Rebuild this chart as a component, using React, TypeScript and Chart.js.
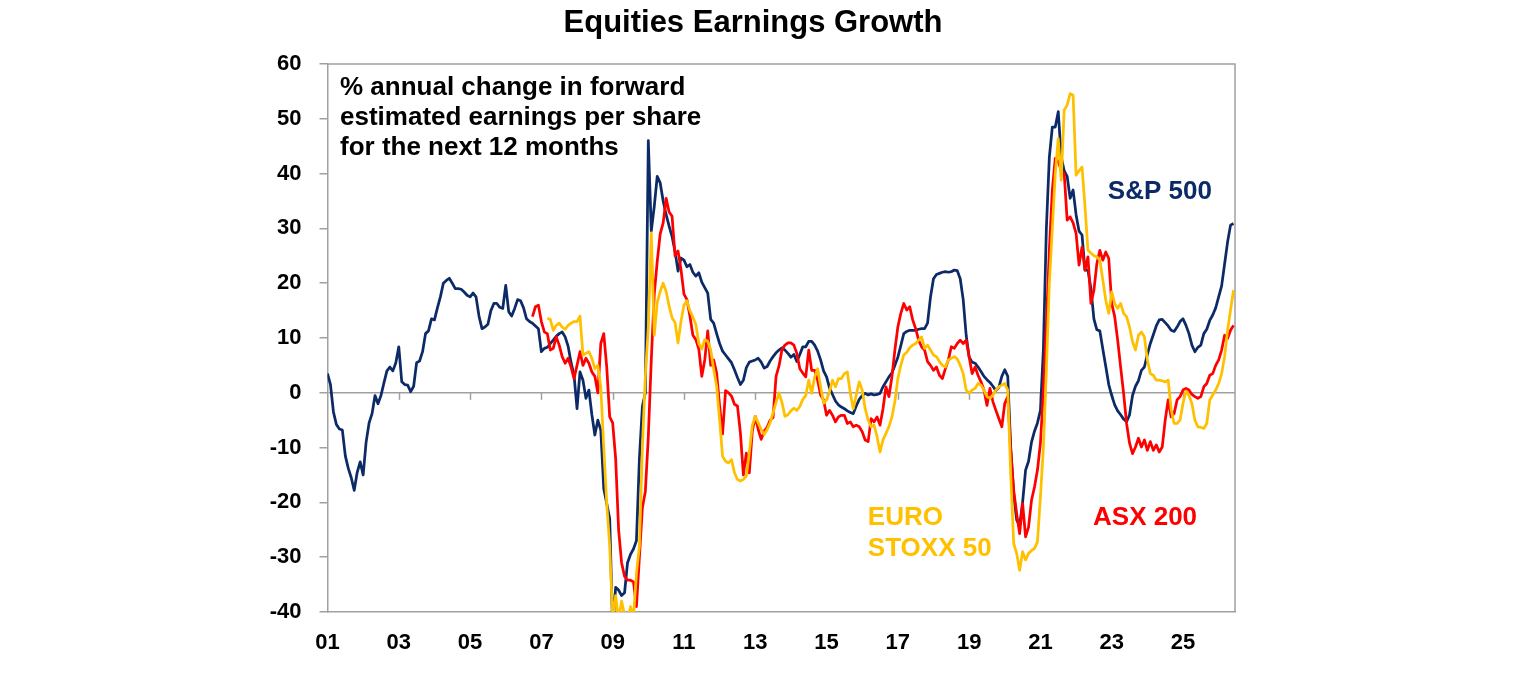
import { useEffect, useRef } from 'react';
import { Chart, registerables } from 'chart.js';

Chart.register(...registerables);

// Monthly observations, first value = first month of each series
// S&P 500 starts Jan 2001
const sp500Start = 0;
const sp500: number[] = [
  // 2001
  3.5, 1.5, -3.5, -5.8, -6.6, -6.8, -11.5, -13.8, -15.5, -17.8, -14.5, -12.6,
  // 2002
  -15, -9, -5.5, -3.8, -0.5, -2, -0.5, 1.8, 4, 4.7, 4, 5.5,
  // 2003
  8.4, 2, 1.5, 1.4, 0.2, 1.2, 5.5, 5.8, 7.5, 10.8, 11.3, 13.5,
  // 2004
  13.3, 15.5, 17.5, 20, 20.5, 20.9, 20, 19, 19, 18.9, 18.4, 17.8,
  // 2005
  17.5, 18.2, 17.5, 14, 11.7, 12, 12.5, 15, 16.3, 16.3, 15.6, 15.4,
  // 2006
  19.6, 14.8, 14, 15.4, 17, 16.8, 15.5, 13.5, 13, 12.7, 12.2, 11.7,
  // 2007
  7.5, 8.1, 8.3, 9, 9.6, 10.3, 10.8, 11.1, 10.2, 8.5, 5.5, 3.2,
  // 2008
  -2.9, 3.8, 2.3, -1, 0.5, -4, -7.7, -5, -6.8, -17.5, -20.2, -23,
  // 2009
  -43, -35.5, -36, -37, -36.5, -31, -29.5, -28.5, -27, -12, -2.5, 0,
  // 2010
  46, 29.5, 34, 39.5, 38.3, 35, 32.5, 30.4, 28.5, 25.8, 22.2, 24.6,
  // 2011
  24.2, 23, 23.4, 22, 21.3, 21.9, 20.2, 19.2, 18.2, 13.4, 12.7, 10.8,
  // 2012
  9, 7.6, 6.9, 6.2, 5.5, 4.2, 2.8, 1.5, 2.3, 4.6, 5.6, 5.8,
  // 2013
  6, 6.3, 5.6, 4.5, 4.8, 5.8, 6.6, 7.3, 7.8, 8.2, 7.8, 7.2,
  // 2014
  6.5, 7, 5.7, 7, 8.4, 8.4, 9.4, 9.4, 8.7, 7.6, 6, 4,
  // 2015
  2.9, 0.9, -0.3, -1.5, -2.2, -2.6, -2.9, -3.3, -3.6, -3.8, -2.4, -1.2,
  // 2016
  -0.5, -0.1, -0.4, -0.2, -0.4, -0.3, -0.1, 1.1, 2, 2.9, 3.6, 5,
  // 2017
  6.5, 8.6, 10.8, 11.2, 11.4, 11.4, 11.4, 11.6, 11.7, 11.7, 12.7, 17.5,
  // 2018
  20.8, 21.6, 21.8, 22, 22.1, 22, 22.1, 22.4, 22.3, 20.8, 17, 10.5,
  // 2019
  6.5, 5.6, 5.4, 4.7, 3.9, 3, 2.4, 1.9, 1.2, 0.4, 1, 3,
  // 2020
  4.2, 3, -10, -18.5, -23.2, -24.3, -20, -14.1, -12.5, -9, -7, -5.5,
  // 2021
  -3.2, 8, 30, 43, 48.5, 48.5, 51.3, 43, 40.5, 39.5, 35.5, 37,
  // 2022
  32.5, 29.5, 28.8, 22.4, 22.4, 19, 13.5, 11.5, 11.3, 8, 4.8, 1.5,
  // 2023
  -0.5, -2.2, -3.3, -4, -4.8, -5.3, -4, -0.5, 1.2, 2.2, 4.1, 4.7,
  // 2024
  7, 9, 10.6, 12.2, 13.3, 13.4, 12.8, 12.2, 11.4, 11.2, 12, 13,
  // 2025
  13.5, 12.3, 10.8, 8.7, 7.5, 8.3, 8.7, 10.8, 11.6, 13.2, 14.2, 15.5,
  // 2026
  17.5, 19.5, 23.5, 27.5, 30.6, 30.9,
];

// ASX 200 starts Oct 2006 (month 69)
const asx200Start = 69;
const asx200: number[] = [
  // 2006
  13.9, 15.7, 16,
  // 2007
  13, 11.1, 10.8, 7.8, 8.1, 10.2, 8.7, 6.6, 5.4, 6.3, 4.7, 2.6,
  // 2008
  5, 7.5, 5, 6.3, 5.4, 3.8, 3, 0, 9, 10.8, 4.7, -4.4,
  // 2009
  -5.5, -12, -25, -31, -33.5, -34.2, -34.2, -34.5, -39, -30, -21, -18,
  // 2010
  -8, 6, 18, 24, 29, 31, 35.5, 33, 32.2, 25, 25.9, 22.5,
  // 2011
  18, 17, 14, 10.5, 9.7, 8, 3, 6, 11.3, 5, 6, 3.6,
  // 2012
  -2.4, -7.5, 0.4, 0, -0.6, -2.1, -2.4, -7.3, -15, -11, -14.6, -7,
  // 2013
  -4.3, -6.7, -8.5, -7, -6.3, -5, -4.5, 3, 4.9, 7.9, 8.7, 9.1,
  // 2014
  9.1, 8.7, 7.2, 4.4, 3.6, 2.9, 7.8, 4.1, 4.1, 2.3, -0.4, -1.3,
  // 2015
  -4.1, -3.2, -4.1, -5.3, -4.4, -4.1, -4.1, -5.6, -5.3, -6.2, -5.9, -6.2,
  // 2016
  -7.1, -8.6, -8.9, -4.7, -5.3, -4.4, -5.9, -2.9, 1.1, -0.7, 2.9, 7.8,
  // 2017
  12, 14.5, 16.3, 15.1, 15.7, 13.3, 11.7, 9.6, 8.4, 7.8, 5.7, 5,
  // 2018
  4.1, 4.7, 3.2, 2.6, 4.4, 6, 8.4, 8.1, 9, 9.6, 9, 9.6,
  // 2019
  6.6, 3.5, 4.7, 3.2, 2, 0.5, -2.3, 0.8, -1.6, -3.2, -4.7, -6.2,
  // 2020
  -1.9, -0.7, -10.5, -17.8, -22, -25.7, -20.2, -26.3, -24.5, -19.6, -17.2, -14.1,
  // 2021
  -9.2, 0.5, 12.7, 26, 37, 42.8, 42.2, 40.6, 40, 31.5, 32.1, 31,
  // 2022
  29.1, 23.3, 26.6, 22.4, 24.8, 16.3, 18.7, 23.6, 26, 24.2, 25.7, 24.5,
  // 2023
  16.3, 13.9, 9.6, 4.7, -0.1, -5.6, -9.2, -11.1, -9.9, -8.3, -9.9, -8.6,
  // 2024
  -10.5, -8.9, -10.5, -9.5, -10.8, -9.9, -5, -1.3, -4.4, -3.8, -1.3, -0.7,
  // 2025
  0.5, 0.8, 0.5, -0.3, -0.7, -1, -0.7, 1.1, 1.7, 3.2, 3.5, 5,
  // 2026
  6, 7.8, 10.5, 9.9, 11.4, 12.3,
];

// EURO STOXX 50 starts Mar 2007 (month 74)
const euroStoxxStart = 74;
const euroStoxx: number[] = [
  // 2007
  13.6, 13.4, 11.4, 12.3, 12.7, 12, 11.6, 12.3, 12.7, 13,
  // 2008
  13, 14, 6.9, 7.2, 7.5, 6.3, 4.4, 5, 1, -10, -20.2, -28,
  // 2009
  -41, -37, -41.5, -38, -40.5, -42, -39, -41, -33, -28, -10, 3,
  // 2010
  12, 29.2, 10.5, 16.5, 18.5, 20, 18.5, 15.8, 13.7, 12.8, 9.1, 13,
  // 2011
  16, 16.8, 15, 13.8, 12.5, 9, 8, 9.7, 9.4, 7.8, 4.3, 1.2,
  // 2012
  -5, -11.6, -12.5, -12.8, -12.2, -14.6, -15.8, -16.1, -15.8, -15.2, -10.9, -6,
  // 2013
  -4.3, -5.5, -6.7, -7.6, -6.7, -5.5, -3.6, -1.8, 0, -1.8, -4.3, -4,
  // 2014
  -3.3, -2.8, -3.2, -2.5, -1.2, -0.5, 2.3, -0.1, 2.9, 4.4, 1.1, -1.9,
  // 2015
  -1.3, 0.2, 2.3, 1.1, 2.6, 2.6, 3.5, 3.8, -0.1, -2.9, -0.4, 2,
  // 2016
  0.5, -2.9, -5, -6.2, -5.9, -8, -10.8, -8.6, -7.4, -6.2, -4.4, -1.6,
  // 2017
  2.6, 5, 6.9, 7.4, 8.2, 8.7, 9, 9.6, 10.2, 8.1, 8.7, 7.8,
  // 2018
  6.9, 6.6, 5.7, 5, 4.7, 6, 6.3, 6.6, 6.2, 5, 3.5, 0.5,
  // 2019
  -0.1, 0.5, 0.8, 1.7, 1.4, 0.5, -0.7, -1, -0.4, 0.5, 1.1, 1.4,
  // 2020
  1.7, 0.5, -15, -27.5, -29.3, -32.4, -29, -30.5, -29.3, -28.8, -28.4, -27.2,
  // 2021
  -19, -10, 4, 20, 30, 40, 46.4, 38.8, 51.6, 52.5, 54.6, 54.3,
  // 2022
  39.7, 40.5, 41.2, 34, 26, 25.5, 25, 24.8, 24.2, 20.6, 16.9, 14.5,
  // 2023
  18.4, 16.3, 15.4, 16.3, 14.5, 13.9, 12, 9.3, 7.8, 10.5, 11.1, 10.2,
  // 2024
  6, 3.5, 3.2, 2.3, 2.3, 2.2, 2, 2.3, -3, -5.6, -5.6, -5,
  // 2025
  -1.9, 0.3, -0.5, -2, -5, -6.2, -6.3, -6.5, -5.6, -1.3, -0.4, 0.5,
  // 2026
  1.7, 3.5, 6.6, 11.4, 15.1, 18.7,
];

// x axis: months since Jan 2001; labels every second January
const xTickMonths = [0, 24, 48, 72, 96, 120, 144, 168, 192, 216, 240, 264, 288];
const xTickLabels = ['01', '03', '05', '07', '09', '11', '13', '15', '17', '19', '21', '23', '25'];
const xMaxMonth = 305.5;
const yMin = -40;
const yMax = 60;
const yStep = 10;

const titleText = 'Equities Earnings Growth';
const noteLines = [
  '% annual change in forward',
  'estimated earnings per share',
  'for the next 12 months',
];

const NAVY = '#0B2A66';
const RED = '#FF0000';
const GOLD = '#FFC000';
const GRAY = '#A0A0A0';
const FONT = '"Liberation Sans", Arial, Helvetica, sans-serif';

const toPoints = (arr: number[], start: number) => arr.map((v, i) => ({ x: start + i, y: v }));

const decorPlugin = {
  id: 'decor',
  beforeDatasetsDraw(chart: any) {
    const { ctx, chartArea: ca, scales } = chart;
    const xs = scales.x;
    const ys = scales.y;
    ctx.save();
    ctx.strokeStyle = GRAY;
    ctx.lineWidth = 1.5;
    // top and right frame lines
    ctx.beginPath();
    ctx.moveTo(ca.left, ca.top);
    ctx.lineTo(ca.right, ca.top);
    ctx.lineTo(ca.right, ca.bottom);
    ctx.stroke();
    // tick marks hanging from the zero line
    const y0 = ys.getPixelForValue(0);
    xTickMonths.forEach((m) => {
      if (m === 0) return;
      const px = Math.round(xs.getPixelForValue(m)) + 0.5;
      ctx.beginPath();
      ctx.moveTo(px, y0);
      ctx.lineTo(px, y0 + 7);
      ctx.stroke();
    });
    ctx.restore();
  },
  afterDraw(chart: any) {
    const { ctx, chartArea: ca, scales } = chart;
    const xs = scales.x;
    const ys = scales.y;
    ctx.save();
    // title
    ctx.fillStyle = '#000';
    ctx.textAlign = 'center';
    ctx.textBaseline = 'alphabetic';
    ctx.font = `bold 31px ${FONT}`;
    ctx.fillText(titleText, 753, 32);
    // note
    ctx.textAlign = 'left';
    ctx.font = `bold 26px ${FONT}`;
    noteLines.forEach((l, i) => ctx.fillText(l, ca.left + 12.5, ca.top + 31 + i * 30));
    // series labels
    ctx.textBaseline = 'middle';
    ctx.font = `bold 26px ${FONT}`;
    ctx.fillStyle = NAVY;
    ctx.fillText('S&P 500', xs.getPixelForValue(262.7), ys.getPixelForValue(36.7));
    ctx.fillStyle = RED;
    ctx.fillText('ASX 200', xs.getPixelForValue(257.7), ys.getPixelForValue(-22.8));
    ctx.fillStyle = GOLD;
    ctx.fillText('EURO', xs.getPixelForValue(181.9), ys.getPixelForValue(-22.8));
    ctx.fillText('STOXX 50', xs.getPixelForValue(181.9), ys.getPixelForValue(-28.4));
    ctx.restore();
  },
};

export default function App() {
  const ref = useRef<HTMLCanvasElement>(null);

  useEffect(() => {
    if (!ref.current) return;
    const chart = new Chart(ref.current, {
      type: 'line',
      data: {
        datasets: [
          {
            label: 'EURO STOXX 50',
            data: toPoints(euroStoxx, euroStoxxStart),
            borderColor: GOLD,
            borderWidth: 2.75,
            order: 1,
          },
          {
            label: 'ASX 200',
            data: toPoints(asx200, asx200Start),
            borderColor: RED,
            borderWidth: 2.75,
            order: 2,
          },
          {
            label: 'S&P 500',
            data: toPoints(sp500, sp500Start),
            borderColor: NAVY,
            borderWidth: 2.75,
            order: 3,
          },
        ],
      },
      options: {
        responsive: false,
        animation: false,
        layout: { padding: { top: 64, right: 301, bottom: 0, left: 0 } },
        elements: { point: { radius: 0 }, line: { tension: 0, borderJoinStyle: 'round' } },
        plugins: {
          legend: { display: false },
          tooltip: { enabled: false },
          title: { display: false },
        },
        scales: {
          x: {
            type: 'linear',
            min: 0,
            max: xMaxMonth,
            afterBuildTicks: (s: any) => {
              s.ticks = xTickMonths.map((v) => ({ value: v }));
            },
            afterFit: (s: any) => {
              s.height = 68;
            },
            grid: { display: false, drawTicks: false },
            border: { display: true, color: GRAY, width: 1.5 },
            ticks: {
              autoSkip: false,
              maxRotation: 0,
              padding: 18,
              color: '#000',
              font: { family: FONT, size: 22, weight: 'bold' },
              callback: (v: any) => {
                const i = xTickMonths.indexOf(Number(v));
                return i >= 0 ? xTickLabels[i] : '';
              },
            },
          },
          y: {
            min: yMin,
            max: yMax,
            afterFit: (s: any) => {
              s.width = 327.5;
            },
            grid: {
              color: (c: any) => (c.tick && c.tick.value === 0 ? GRAY : 'rgba(0,0,0,0)'),
              lineWidth: 1.5,
              drawTicks: true,
              tickLength: 8,
              tickColor: GRAY,
            },
            border: { display: true, color: GRAY, width: 1.5 },
            ticks: {
              stepSize: yStep,
              padding: 18,
              color: '#000',
              font: { family: FONT, size: 22, weight: 'bold' },
            },
          },
        },
      },
      plugins: [decorPlugin],
    });
    return () => chart.destroy();
  }, []);

  return (
    <div style={{ position: 'absolute', left: 0, top: 0, width: 1536, height: 680, background: '#fff' }}>
      <canvas ref={ref} width={1536} height={680} style={{ display: 'block' }} />
    </div>
  );
}
